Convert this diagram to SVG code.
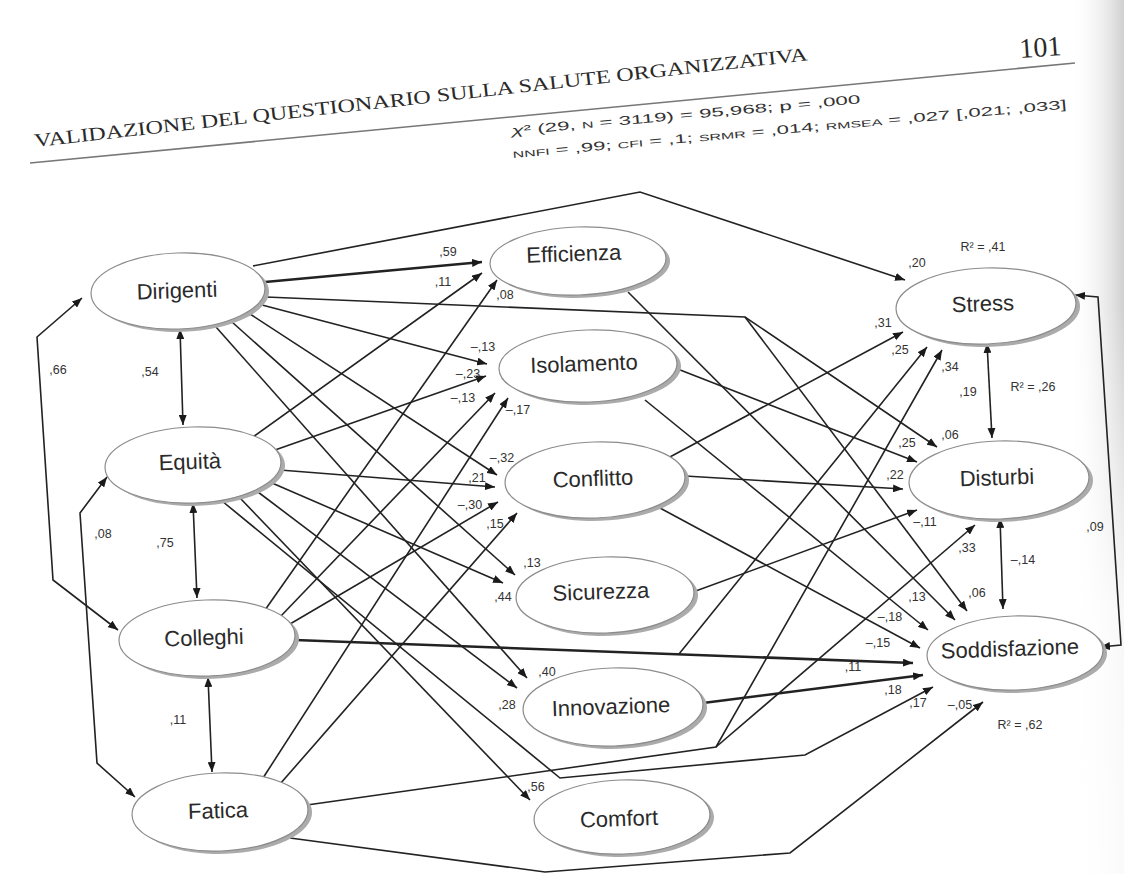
<svg xmlns="http://www.w3.org/2000/svg" width="1124" height="874" viewBox="0 0 1124 874">
<defs>
<marker id="ah" viewBox="0 0 10 8" refX="10" refY="4" markerWidth="10" markerHeight="8" markerUnits="userSpaceOnUse" orient="auto-start-reverse"><path d="M0,0 L10,4 L0,8 z" fill="#1a1a1a"/></marker>
<linearGradient id="paper" x1="0" x2="1" y1="0" y2="0"><stop offset="0" stop-color="#ffffff" stop-opacity="0"/><stop offset="1" stop-color="#c4c4c4" stop-opacity="0.8"/></linearGradient>
<linearGradient id="fade" x1="0" x2="0" y1="0" y2="1"><stop offset="0" stop-color="#ffffff" stop-opacity="0"/><stop offset="0.35" stop-color="#ffffff" stop-opacity="0"/><stop offset="0.7" stop-color="#ffffff" stop-opacity="0.85"/><stop offset="1" stop-color="#ffffff" stop-opacity="0.9"/></linearGradient>
</defs>
<style>
.ln{fill:none;stroke:#222;stroke-width:1.6;stroke-linejoin:miter}
.ar{marker-end:url(#ah)}
.dbl{marker-start:url(#ah);marker-end:url(#ah)}
.thick{stroke-width:2.6}
.sh{fill:#ababab}
.el{fill:#fff;stroke:#8c8c8c;stroke-width:1.2}
.nt{font-family:"Liberation Sans",Arial,sans-serif;font-size:22px;fill:#2a2a2a;text-anchor:middle}
.lb{font-family:"Liberation Sans",Arial,sans-serif;font-size:12.5px;fill:#333;text-anchor:middle}
.hd{font-family:"Liberation Serif","Times New Roman",serif;fill:#2a2a2a}
.st{font-family:"Liberation Sans",Arial,sans-serif;fill:#333}
</style>
<rect width="1124" height="874" fill="#fff"/>
<rect x="1070" y="0" width="54" height="874" fill="url(#paper)"/>
<rect x="1070" y="0" width="54" height="874" fill="url(#fade)"/>

<g id="header">
<text class="hd" font-size="19" transform="translate(35,147) rotate(-6.4)" textLength="778" lengthAdjust="spacingAndGlyphs">VALIDAZIONE DEL QUESTIONARIO SULLA SALUTE ORGANIZZATIVA</text>
<text class="hd" font-size="28" transform="translate(1020,58) rotate(-4)">101</text>
<path d="M30,163 L1075,63" stroke="#777" stroke-width="1.6" fill="none"/>
<text class="st" font-size="12.5" transform="translate(512,135) rotate(-5.2)" textLength="350" lengthAdjust="spacingAndGlyphs"><tspan font-style="italic">χ</tspan>² (29, <tspan font-size="9">N</tspan> = 3119) = 95,968; p = ,000</text>
<text class="st" font-size="12.5" transform="translate(513,158) rotate(-5.1)" textLength="556" lengthAdjust="spacingAndGlyphs"><tspan font-size="9">NNFI</tspan> = ,99; <tspan font-size="9">CFI</tspan> = ,1; <tspan font-size="9">SRMR</tspan> = ,014; <tspan font-size="9">RMSEA</tspan> = ,027 [,021; ,033]</text>
</g>

<g id="connectors">
<!-- Dirigenti -->
<path class="ln ar" d="M253,266 L640,192 L905,280"/>
<path class="ln ar thick" d="M265,282 L482,262"/>
<path class="ln ar" d="M266,297 L745,317 L937,447"/>
<path class="ln ar" d="M745,317 L967,611"/>
<path class="ln ar" d="M262,305 L487,364"/>
<path class="ln ar" d="M250,314 L497,475"/>
<path class="ln ar" d="M232,322 L515,575"/>
<path class="ln ar" d="M216,327 L527,678"/>
<!-- Equita -->
<path class="ln ar" d="M253,437 L482,273"/>
<path class="ln ar" d="M275,450 L486,376"/>
<path class="ln ar" d="M280,470 L495,487"/>
<path class="ln ar" d="M272,483 L503,583"/>
<path class="ln ar" d="M258,492 L517,688"/>
<path class="ln ar" d="M240,498 L530,800"/>
<path class="ln ar" d="M222,501 L560,778 L805,755 L933,687"/>
<!-- Colleghi -->
<path class="ln ar" d="M265,610 L497,280"/>
<path class="ln ar" d="M280,617 L495,393"/>
<path class="ln ar" d="M290,624 L498,502"/>
<path class="ln ar thick" d="M295,640 L913,663"/>
<path class="ln ar" d="M679,654 L927,347"/>
<!-- Fatica -->
<path class="ln ar" d="M263,778 L508,398"/>
<path class="ln ar" d="M280,784 L517,513"/>
<path class="ln ar" d="M307,805 L716,747 L942,350"/>
<path class="ln ar" d="M716,747 L975,525"/>
<path class="ln ar" d="M290,838 L545,872 L790,853 L983,702"/>
<!-- mediators -->
<path class="ln ar" d="M628,292 L955,620"/>
<path class="ln ar" d="M675,368 L917,462"/>
<path class="ln ar" d="M645,400 L928,630"/>
<path class="ln ar" d="M668,458 L903,332"/>
<path class="ln ar" d="M685,476 L903,489"/>
<path class="ln ar" d="M660,508 L920,648"/>
<path class="ln ar" d="M693,592 L917,510"/>
<path class="ln ar thick" d="M703,703 L923,675"/>
<!-- covariances -->
<path class="ln dbl" d="M180,329 L183,425"/>
<path class="ln dbl" d="M193,503 L197,598"/>
<path class="ln dbl" d="M208,677 L212,772"/>
<path class="ln dbl" d="M82,298 L37,337 L53,580 L118,630"/>
<path class="ln dbl" d="M107,477 L80,513 L97,763 L135,797"/>
<path class="ln dbl" d="M987,343 L992,438"/>
<path class="ln dbl" d="M1000,518 L1003,609"/>
<path class="ln dbl" d="M1075,295 L1098,297 L1121,645 L1100,647"/>
</g>

<g id="node-dirigenti" transform="rotate(-2 178 291)"><ellipse class="sh" cx="182" cy="294" rx="87" ry="38"/><ellipse class="el" cx="178" cy="291" rx="87" ry="38"/><text class="nt" x="177" y="298">Dirigenti</text></g>
<g id="node-equita" transform="rotate(-2 193 465)"><ellipse class="sh" cx="197" cy="468" rx="88" ry="38"/><ellipse class="el" cx="193" cy="465" rx="88" ry="38"/><text class="nt" x="190" y="469">Equità</text></g>
<g id="node-colleghi" transform="rotate(-2 207 638)"><ellipse class="sh" cx="211" cy="641" rx="88" ry="38"/><ellipse class="el" cx="207" cy="638" rx="88" ry="38"/><text class="nt" x="204" y="645">Colleghi</text></g>
<g id="node-fatica" transform="rotate(-2 220 812)"><ellipse class="sh" cx="224" cy="815" rx="88" ry="39"/><ellipse class="el" cx="220" cy="812" rx="88" ry="39"/><text class="nt" x="218" y="818">Fatica</text></g>
<g id="node-efficienza" transform="rotate(-2 578 261)"><ellipse class="sh" cx="582" cy="264" rx="88" ry="34"/><ellipse class="el" cx="578" cy="261" rx="88" ry="34"/><text class="nt" x="574" y="261">Efficienza</text></g>
<g id="node-isolamento" transform="rotate(-2 588 366)"><ellipse class="sh" cx="592" cy="369" rx="89" ry="36"/><ellipse class="el" cx="588" cy="366" rx="89" ry="36"/><text class="nt" x="584" y="371">Isolamento</text></g>
<g id="node-conflitto" transform="rotate(-2 595 480)"><ellipse class="sh" cx="599" cy="483" rx="90" ry="38"/><ellipse class="el" cx="595" cy="480" rx="90" ry="38"/><text class="nt" x="593" y="486">Conflitto</text></g>
<g id="node-sicurezza" transform="rotate(-2 605 595)"><ellipse class="sh" cx="609" cy="598" rx="89" ry="38"/><ellipse class="el" cx="605" cy="595" rx="89" ry="38"/><text class="nt" x="601" y="599">Sicurezza</text></g>
<g id="node-innovazione" transform="rotate(-2 613 707)"><ellipse class="sh" cx="617" cy="710" rx="90" ry="39"/><ellipse class="el" cx="613" cy="707" rx="90" ry="39"/><text class="nt" x="611" y="714">Innovazione</text></g>
<g id="node-comfort" transform="rotate(-2 622 817)"><ellipse class="sh" cx="626" cy="820" rx="88" ry="37"/><ellipse class="el" cx="622" cy="817" rx="88" ry="37"/><text class="nt" x="619" y="826">Comfort</text></g>
<g id="node-stress" transform="rotate(-2 986 306)"><ellipse class="sh" cx="990" cy="309" rx="90" ry="38"/><ellipse class="el" cx="986" cy="306" rx="90" ry="38"/><text class="nt" x="983" y="311">Stress</text></g>
<g id="node-disturbi" transform="rotate(-2 999 480)"><ellipse class="sh" cx="1003" cy="483" rx="90" ry="39"/><ellipse class="el" cx="999" cy="480" rx="90" ry="39"/><text class="nt" x="997" y="485">Disturbi</text></g>
<g id="node-soddisfazione" transform="rotate(-2 1015 653)"><ellipse class="sh" cx="1019" cy="656" rx="88" ry="37"/><ellipse class="el" cx="1015" cy="653" rx="88" ry="37"/><text class="nt" x="1010" y="656">Soddisfazione</text></g>

<g id="labels">
<text class="lb" x="150" y="376">,54</text>
<text class="lb" x="58" y="374">,66</text>
<text class="lb" x="103" y="538">,08</text>
<text class="lb" x="165" y="547">,75</text>
<text class="lb" x="178" y="724">,11</text>
<text class="lb" x="448" y="256">,59</text>
<text class="lb" x="443" y="286">,11</text>
<text class="lb" x="505" y="299">,08</text>
<text class="lb" x="483" y="351">–,13</text>
<text class="lb" x="468" y="378">–,23</text>
<text class="lb" x="463" y="402">–,13</text>
<text class="lb" x="518" y="414">–,17</text>
<text class="lb" x="502" y="462">–,32</text>
<text class="lb" x="477" y="482">,21</text>
<text class="lb" x="470" y="509">–,30</text>
<text class="lb" x="495" y="528">,15</text>
<text class="lb" x="532" y="567">,13</text>
<text class="lb" x="503" y="601">,44</text>
<text class="lb" x="547" y="676">,40</text>
<text class="lb" x="507" y="709">,28</text>
<text class="lb" x="536" y="791">,56</text>
<text class="lb" x="917" y="267">,20</text>
<text class="lb" x="983" y="251">R² = ,41</text>
<text class="lb" x="883" y="327">,31</text>
<text class="lb" x="900" y="354">,25</text>
<text class="lb" x="950" y="371">,34</text>
<text class="lb" x="968" y="396">,19</text>
<text class="lb" x="1033" y="391">R² = ,26</text>
<text class="lb" x="950" y="439">,06</text>
<text class="lb" x="907" y="447">,25</text>
<text class="lb" x="895" y="479">,22</text>
<text class="lb" x="925" y="526">–,11</text>
<text class="lb" x="967" y="552">,33</text>
<text class="lb" x="1023" y="564">–,14</text>
<text class="lb" x="1095" y="531">,09</text>
<text class="lb" x="977" y="597">,06</text>
<text class="lb" x="917" y="601">,13</text>
<text class="lb" x="890" y="621">–,18</text>
<text class="lb" x="878" y="647">–,15</text>
<text class="lb" x="853" y="671">,11</text>
<text class="lb" x="893" y="694">,18</text>
<text class="lb" x="918" y="707">,17</text>
<text class="lb" x="960" y="709">–,05</text>
<text class="lb" x="1020" y="729">R² = ,62</text>
</g>
</svg>
